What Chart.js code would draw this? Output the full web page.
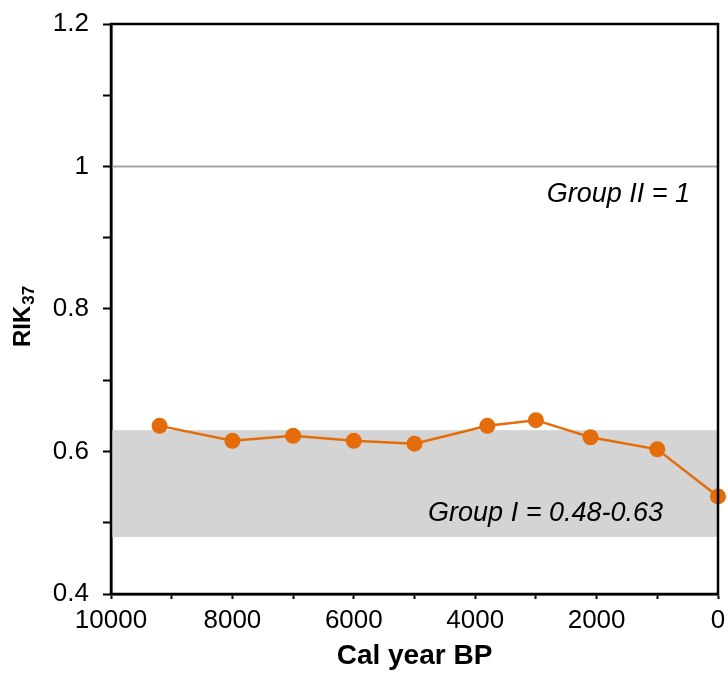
<!DOCTYPE html>
<html>
<head>
<meta charset="utf-8">
<script src="https://cdn.jsdelivr.net/npm/chart.js@4"></script>
<style>
  html, body { margin: 0; padding: 0; background: #fff; }
  #wrap { width: 728px; height: 673px; }
</style>
</head>
<body>
<div id="wrap"><canvas id="chart" width="728" height="673"></canvas></div>
<script>
(() => {
// data
const years = [9200, 8000, 7000, 6000, 5000, 3800, 3000, 2100, 1000, 0];
const rik37 = [0.636, 0.615, 0.622, 0.615, 0.611, 0.636, 0.644, 0.620, 0.603, 0.537];

const groupIRange = [0.48, 0.63];
const groupIILevel = 1;
const groupILabel = 'Group I = 0.48-0.63';
const groupIILabel = 'Group II = 1';

const yTicksMajor = [0.4, 0.6, 0.8, 1, 1.2];
const xRange = [0, 10000];
const yRange = [0.4, 1.2];

const FONT = '"Liberation Sans", Arial, Helvetica, sans-serif';
const ORANGE = '#e46c0a';

// grey band + reference line behind the data, frame + texts on top
const overlay = {
  id: 'overlay',
  beforeDatasetsDraw(chart){
    const {ctx, chartArea: a, scales: {y}} = chart;
    ctx.save();
    const yTop = y.getPixelForValue(groupIRange[1]);
    const yBot = y.getPixelForValue(groupIRange[0]);
    ctx.fillStyle = '#d4d4d4';
    ctx.fillRect(a.left, yTop, a.right - a.left, yBot - yTop);

    const yl = y.getPixelForValue(groupIILevel);
    ctx.strokeStyle = '#a6a6a6';
    ctx.lineWidth = 2;
    ctx.beginPath(); ctx.moveTo(a.left, yl); ctx.lineTo(a.right, yl); ctx.stroke();

    ctx.fillStyle = '#000';
    ctx.font = 'italic 27px ' + FONT;
    ctx.textAlign = 'right';
    ctx.textBaseline = 'alphabetic';
    ctx.fillText(groupIILabel, a.right - 28, yl + 35);
    ctx.fillText(groupILabel, a.right - 55, yBot - 16);
    ctx.restore();
  },
  afterDraw(chart){
    const {ctx, chartArea: a} = chart;
    ctx.save();
    ctx.strokeStyle = '#000';
    ctx.lineWidth = 2.5;
    ctx.strokeRect(a.left, a.top, a.right - a.left, a.bottom - a.top);

    // y axis title with subscript
    ctx.translate(30, 317);
    ctx.rotate(-Math.PI / 2);
    ctx.fillStyle = '#000';
    ctx.textBaseline = 'alphabetic';
    ctx.textAlign = 'left';
    ctx.font = 'bold 24px ' + FONT;
    const main = 'RIK';
    const w = ctx.measureText(main).width;
    ctx.font = 'bold 17px ' + FONT;
    const ws = ctx.measureText('37').width;
    const x0 = -(w + ws) / 2;
    ctx.font = 'bold 24px ' + FONT;
    ctx.fillText(main, x0, 0);
    ctx.font = 'bold 17px ' + FONT;
    ctx.fillText('37', x0 + w + 1, 4);
    ctx.restore();
  }
};

new Chart(document.getElementById('chart'), {
  type: 'line',
  data: {
    datasets: [{
      data: years.map((x, i) => ({x, y: rik37[i]})),
      borderColor: ORANGE,
      backgroundColor: ORANGE,
      borderWidth: 2.5,
      pointRadius: 8,
      pointBorderWidth: 0,
      pointBackgroundColor: ORANGE,
      tension: 0,
      clip: false
    }]
  },
  options: {
    responsive: false,
    animation: false,
    layout: { padding: { top: 24, right: 10, left: 0, bottom: 0 } },
    plugins: { legend: { display: false }, tooltip: { enabled: false } },
    scales: {
      x: {
        type: 'linear',
        reverse: true,
        min: xRange[0], max: xRange[1],
        afterFit(s){ s.height = 79; s.paddingLeft = 0; s.paddingRight = 0; },
        ticks: {
          stepSize: 1000,
          autoSkip: false,
          maxRotation: 0,
          padding: 6,
          color: '#000',
          font: { family: FONT, size: 26 },
          callback: v => (v % 2000 === 0 ? String(v) : '')
        },
        grid: { drawOnChartArea: false, tickLength: 5, tickWidth: 2, tickColor: '#000' },
        border: { display: true, color: '#000', width: 2.5 },
        title: {
          display: true,
          text: 'Cal year BP',
          color: '#000',
          font: { family: FONT, size: 28, weight: 'bold' },
          padding: { top: 0, bottom: 0 }
        }
      },
      y: {
        min: yRange[0], max: yRange[1],
        afterFit(s){ s.width = 111; s.paddingTop = 0; s.paddingBottom = 0; },
        ticks: {
          stepSize: 0.1,
          autoSkip: false,
          padding: 14,
          color: '#000',
          font: { family: FONT, size: 26 },
          callback: v => {
            const r = Math.round(v * 10) / 10;
            return yTicksMajor.some(t => Math.abs(t - r) < 1e-6) ? String(r) : '';
          }
        },
        grid: { drawOnChartArea: false, tickLength: 8, tickWidth: 2, tickColor: '#000' },
        border: { display: true, color: '#000', width: 2.5 }
      }
    }
  },
  plugins: [overlay]
});
})();
</script>
</body>
</html>
